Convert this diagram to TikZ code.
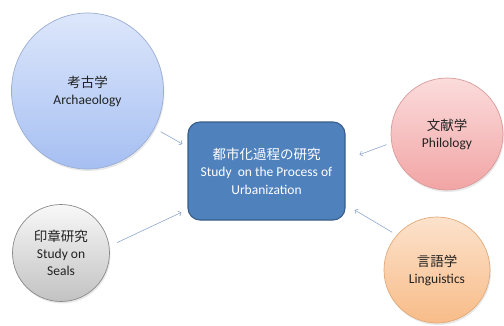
\documentclass[tikz,border=0pt]{standalone}
\usepackage{fontspec}
\setmainfont{Carlito}
\newfontfamily\cjk{Noto Sans CJK JP}
\usetikzlibrary{arrows.meta,shapes.geometric,shadows}
\definecolor{archT}{HTML}{DDE7FB}
\definecolor{archB}{HTML}{A6BFF2}
\definecolor{archD}{HTML}{9AADD3}
\definecolor{philT}{HTML}{FBDCDC}
\definecolor{philB}{HTML}{F2A4A4}
\definecolor{philD}{HTML}{D99A9A}
\definecolor{sealT}{HTML}{F8F8F8}
\definecolor{sealB}{HTML}{C2C2C2}
\definecolor{sealD}{HTML}{8A8A8A}
\definecolor{lingT}{HTML}{FCE2CC}
\definecolor{lingB}{HTML}{F8BC88}
\definecolor{lingD}{HTML}{E0AA7A}
\definecolor{boxF}{HTML}{4F81BD}
\definecolor{boxD}{HTML}{385D8A}
\definecolor{arrC}{HTML}{8EA6CC}
\definecolor{txt}{HTML}{222222}
\tikzset{
  lbl/.style={align=center,text=txt,font=\fontsize{13.5}{17}\selectfont},
  bubble/.style={circle,inner sep=0pt,line width=0.7pt,lbl,
    drop shadow={opacity=0.18,shadow xshift=1pt,shadow yshift=-2pt}},
  centrebox/.style={rectangle,rounded corners=12pt,fill=boxF,draw=boxD,line width=1.1pt,
    minimum width=157pt,minimum height=98pt,align=center,text=white,
    font=\fontsize{13.5}{17.5}\selectfont},
  arr/.style={draw=arrC,line width=0.6pt,-{Straight Barb[length=2.5pt,width=5pt]}}
}
\begin{document}
\begin{tikzpicture}[x=1pt,y=1pt]
\useasboundingbox (0,0) rectangle (504,325);
\node[centrebox] (box) at (266.5,154) {{\cjk 都市化過程の研究}\\Study\ \ on the Process of\\Urbanization};
\node[ellipse,inner sep=0pt,line width=0.7pt,lbl,minimum width=152pt,minimum height=156pt,
  top color=archT,bottom color=archB,draw=archD,
  drop shadow={opacity=0.18,shadow xshift=1pt,shadow yshift=-2pt}] (arch) at (87.5,234) {{\cjk 考古学}\\Archaeology};
\node[bubble,minimum size=112pt,top color=philT,bottom color=philB,draw=philD] (phil) at (447,191) {{\cjk 文献学}\\Philology};
\node[bubble,minimum size=97pt,top color=sealT,bottom color=sealB,draw=sealD] (seal) at (61,72) {{\cjk 印章研究}\\Study on\\Seals};
\node[bubble,minimum size=106pt,top color=lingT,bottom color=lingB,draw=lingD] (ling) at (437,55) {{\cjk 言語学}\\Linguistics};
\draw[arr,shorten <=7pt,shorten >=5.7pt] (arch.-29.5) -- (box.163.5);
\draw[arr,shorten <=5.1pt,shorten >=14.9pt] (phil.189.6) -- (box.8);
\draw[arr,shorten <=8.3pt,shorten >=6.6pt] (seal.8.9) -- (box.206.6);
\draw[arr,shorten <=5.3pt,shorten >=10.5pt] (ling.139.8) -- (box.-23.2);
\end{tikzpicture}
\end{document}
